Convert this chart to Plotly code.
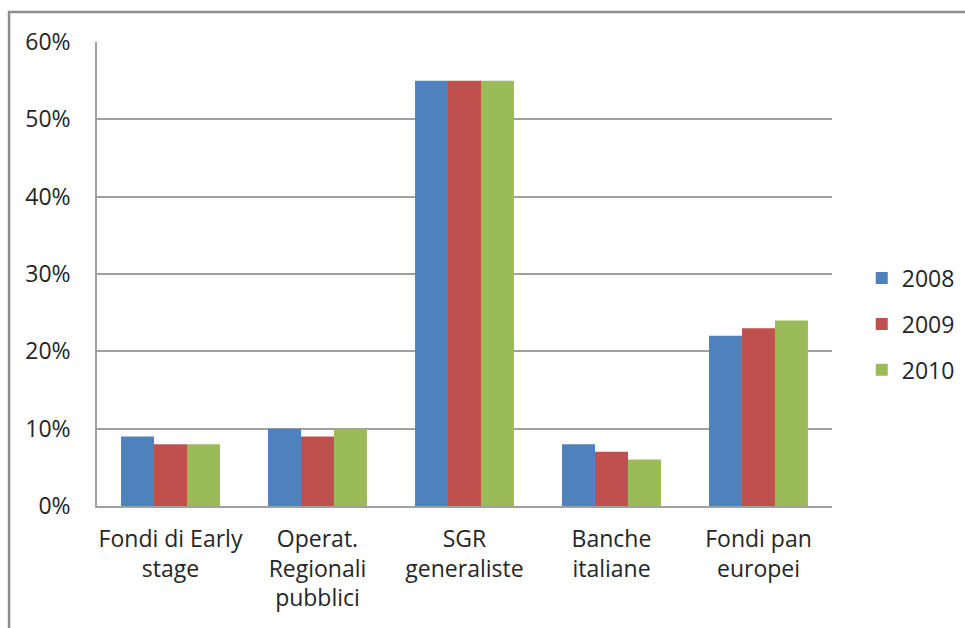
import plotly.graph_objects as go

categories = ["Fondi di Early<br>stage", "Operat.<br>Regionali<br>pubblici", "SGR<br>generaliste",
              "Banche<br>italiane", "Fondi pan<br>europei"]
years = ["2008", "2009", "2010"]
values_2008 = [0.09, 0.10, 0.55, 0.08, 0.22]
values_2009 = [0.08, 0.09, 0.55, 0.07, 0.23]
values_2010 = [0.08, 0.10, 0.55, 0.06, 0.24]
colors = ["#4F81BD", "#C0504D", "#9BBB59"]
y_ticks = [0, 0.1, 0.2, 0.3, 0.4, 0.5, 0.6]

FONT = "Open Sans"
SIZE = 23

fig = go.Figure()
for name, vals, col in zip(years, [values_2008, values_2009, values_2010], colors):
    fig.add_trace(go.Bar(
        x=categories, y=vals, name=name, legendgroup=name,
        marker=dict(color=col, line=dict(width=0)),
    ))

fig.update_layout(
    width=965, height=628,
    margin=dict(l=97, r=133, t=42, b=122),
    paper_bgcolor="white", plot_bgcolor="white",
    barmode="group", bargap=0.327, bargroupgap=0,
    font=dict(family=FONT, size=SIZE, color="#262626"),
    showlegend=True,
    legend=dict(
        xref="container", yref="container",
        x=0.893, y=0.484, xanchor="left", yanchor="middle",
        font=dict(size=SIZE, color="#262626"),
        itemwidth=30, tracegroupgap=13,
        bgcolor="rgba(0,0,0,0)",
    ),
    xaxis=dict(
        showgrid=False, showline=True, linecolor="#A0A0A0", linewidth=2,
        ticks="", tickfont=dict(size=SIZE), fixedrange=True,
        ticklabelstandoff=11,
    ),
    yaxis=dict(
        range=[0, 0.6], tickvals=y_ticks, tickformat=".0%",
        showgrid=True, gridcolor="#A0A0A0", gridwidth=1.5,
        showline=True, linecolor="#A0A0A0", linewidth=1.5,
        zeroline=False, ticks="", ticklabelstandoff=20,
        tickfont=dict(size=SIZE),
    ),
    shapes=[dict(
        type="rect", xref="paper", yref="paper",
        x0=-0.1197, x1=1.3, y0=-0.5, y1=1.0646,
        line=dict(color="#8C8C8C", width=2.5), fillcolor="rgba(0,0,0,0)", layer="below",
    )],
)

fig.write_html("out.html")
